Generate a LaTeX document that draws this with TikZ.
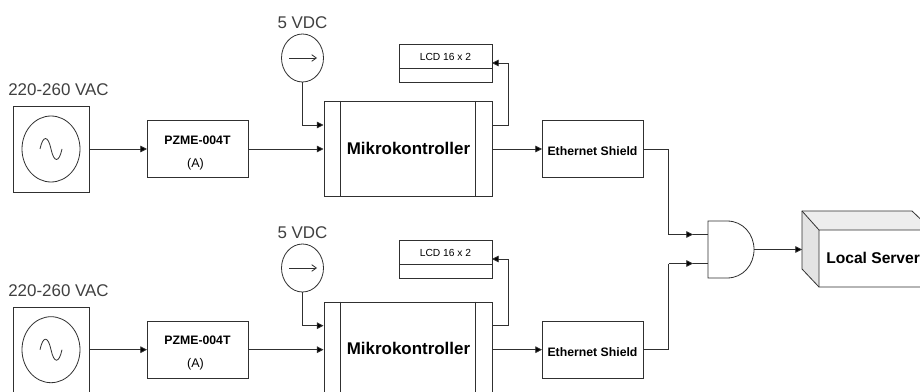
\documentclass[tikz,border=0pt]{standalone}
\usepackage{fontspec}
\setmainfont{Liberation Sans}
\usetikzlibrary{arrows.meta,shapes.geometric}
\definecolor{ln}{HTML}{303030}
\tikzset{
  x=0.75pt,y=-0.75pt,
  wire/.style={draw=ln,line width=0.6pt},
  arr/.style={wire,-{Triangle[length=5pt,width=5pt,fill=black]}},
  boxs/.style={draw=ln,line width=0.6pt,fill=white,inner sep=0pt,anchor=north west},
  biglab/.style={font=\fontsize{12.7}{14}\selectfont,text=black!75,inner sep=0pt},
  boldlab/.style={font=\fontsize{9.2}{11}\selectfont\bfseries,inner sep=0pt},
  mclab/.style={font=\fontsize{12.7}{14}\selectfont\bfseries,inner sep=0pt},
  lcdlab/.style={font=\fontsize{7.7}{9}\selectfont,inner sep=0pt},
}
\newcommand{\rowblock}[4]{%
  \begin{scope}[yshift={-0.75pt*#2}]
    \node[boxs,minimum width=57pt,minimum height=64.5pt] (ac#1) at (13,106) {};
    \node[draw=ln,line width=0.6pt,ellipse,minimum width=43.5pt,minimum height=49.5pt,inner sep=0pt] (acc#1) at (51,149) {};
    \draw[wire] (40,149) .. controls (43,135) and (48,135) .. (51,149) .. controls (54,163) and (59,163) .. (62,149);
    \node[biglab] (aclab#1) at (58.5,90) {220-260 VAC};
    \node[boxs,minimum width=75.75pt,minimum height=42.75pt] (pz#1) at (147,120) {};
    \node[boldlab] (pzt#1) at (197.5,140) {PZME-004T};
    \node[boldlab,font=\fontsize{9.4}{11}\selectfont] (pza#1) at (195.5,164) {(A)};
    \node[boxs,minimum width=126.4pt,minimum height=71.6pt] (mc#1) at (323.5,101) {};
    \coordinate (mcl1#1) at (340.5,101); \coordinate (mcl2#1) at (340.5,196.5);
    \coordinate (mcr1#1) at (475,101); \coordinate (mcr2#1) at (475,196.5);
    \draw[wire] (mcl1#1) -- (mcl2#1) (mcr1#1) -- (mcr2#1);
    \node[mclab] (mct#1) at (408.5,148) {Mikrokontroller};
    \node[boxs,minimum width=75.75pt,minimum height=42.75pt] (es#1) at (542,120) {};
    \node[boldlab] (est#1) at (592.5,151) {Ethernet Shield};
    \coordinate (acout#1) at (89,149);
    \coordinate (pzin#1) at (147,149);
    \coordinate (pzout#1) at (248,149);
    \coordinate (mcin#1) at (323.5,149);
    \coordinate (mcout#1) at (492,149);
    \coordinate (esin#1) at (542,149);
    \coordinate (esout#1) at (643,149);
    \coordinate (mcp#1) at (323.5,125);
    \coordinate (mcq#1) at (492,125);
    \draw[arr] (acout#1) -- (pzin#1);
    \draw[arr] (pzout#1) -- (mcin#1);
    \draw[arr] (mcout#1) -- (esin#1);
  \end{scope}
  \begin{scope}[yshift={-0.75pt*#3}]
    \node[biglab] (vl#1) at (302.5,23) {5 VDC};
    \node[draw=ln,line width=0.6pt,ellipse,fill=white,minimum width=31.5pt,minimum height=36pt,inner sep=0pt] (dc#1) at (302.5,58) {};
    \coordinate (da#1) at (289,58); \coordinate (db#1) at (317,58);
    \draw[wire,-{Straight Barb[length=3.5pt,width=5pt]}] (da#1) -- (db#1);
  \end{scope}
  \begin{scope}[yshift={-0.75pt*#4}]
    \node[boxs,minimum width=69.75pt,minimum height=28.5pt] (lcd#1) at (399,44) {};
    \coordinate (ll#1) at (399,68); \coordinate (lr#1) at (492,68);
    \draw[wire] (ll#1) -- (lr#1);
    \node[lcdlab] (lt#1) at (445.5,56.5) {LCD 16 x 2};
    \coordinate (lin#1) at (492,63);
    \coordinate (lup#1) at (508.5,63);
  \end{scope}
  \draw[arr] (dc#1.south) |- (mcp#1);
  \draw[arr] (mcq#1) -| (lup#1) -- (lin#1);
}
\begin{document}
\begin{tikzpicture}
\useasboundingbox (0,0) rectangle (920,392);
\fill[white] (0,0) rectangle (920,392);
\clip (0,0) rectangle (920,392);
\rowblock{A}{0}{0}{0}
\rowblock{B}{200.7}{210}{196}
% AND gate
\path[draw=ln,line width=0.6pt,fill=white] (708,221) -- (727,221) .. controls (743,221) and (754,234) .. (754,249.5) .. controls (754,265) and (743,278) .. (727,278) -- (708,278) -- cycle;
\coordinate (g1) at (708,234.5);
\coordinate (g2) at (708,263.5);
\coordinate (g1m) at (693,234.5);
\coordinate (g2m) at (693,263.5);
\coordinate (gout) at (754,249.5);
\coordinate (wa) at (668.5,234.5);
\coordinate (wb) at (668.5,263.5);
\draw[wire] (g1m) -- (g1);
\draw[wire] (g2m) -- (g2);
\draw[wire] (esoutA) -| (wa);
\draw[arr] (wa) -- (g1m);
\draw[wire] (esoutB) -| (wb);
\draw[arr] (wb) -- (g2m);
% Server
\fill[white] (802,211) -- (912,211) -- (932,230) -- (932,287) -- (819,287) -- (802,269) -- cycle;
\fill[black!7] (802,211) -- (912,211) -- (932,230) -- (819,230) -- cycle;
\fill[black!11] (802,211) -- (819,230) -- (819,287) -- (802,269) -- cycle;
\draw[wire] (802,211) -- (912,211) -- (932,230) -- (932,287) -- (819,287) -- (802,269) -- cycle;
\draw[wire] (802,211) -- (819,230) -- (932,230) (819,230) -- (819,287);
\coordinate (srv) at (802,249.5);
\node[font=\fontsize{11.7}{13}\selectfont\bfseries,inner sep=0pt,anchor=west] (srvt) at (826,258) {Local Server};
\draw[arr] (gout) -- (srv);
\end{tikzpicture}
\end{document}
